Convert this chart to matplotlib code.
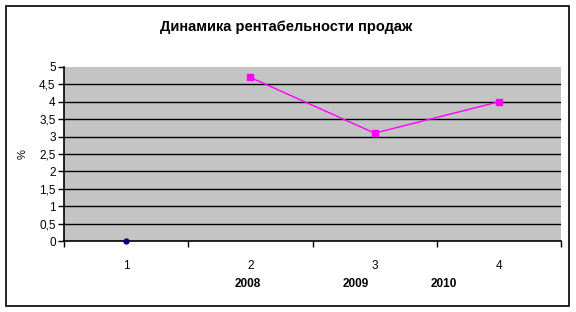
import matplotlib
matplotlib.use("Agg")
import matplotlib.pyplot as plt
import numpy as np
from matplotlib.patches import Rectangle

plt.rcParams["font.family"] = ["Liberation Sans", "DejaVu Sans"]

categories = [1, 2, 3, 4]
series_base = [0, None, None, None]
series_profit = [None, 4.7, 3.1, 4.0]
years = ["2008", "2009", "2010"]
year_pos = [1.98, 2.85, 3.56]
yticks = [0, 0.5, 1, 1.5, 2, 2.5, 3, 3.5, 4, 4.5, 5]

fig = plt.figure(figsize=(5.76, 3.12), dpi=100)
fig.patches.append(Rectangle((6 / 576, 6 / 312), 563 / 576, 300 / 312,
                             transform=fig.transFigure, fill=False,
                             edgecolor="black", lw=1.2))
ax = fig.add_axes([64 / 576, 71 / 312, 497 / 576, 174 / 312])
ax.set_facecolor("#c4c4c4")

x = np.array(categories, dtype=float)
yb = np.array([np.nan if v is None else v for v in series_base], dtype=float)
yp = np.array([np.nan if v is None else v for v in series_profit], dtype=float)
ax.plot(x, yb, color="#000080", marker="o", ms=3.5, lw=1, clip_on=False, zorder=4)
ax.plot(x, yp, color="#ff00ff", marker="s", ms=5, lw=1, zorder=4)

ax.set_xlim(0.5, 4.5)
ax.set_ylim(0, 5)
ax.set_yticks(yticks)
ax.set_yticklabels([f"{v:g}".replace(".", ",") for v in yticks], fontsize=8.5)
for v in yticks[1:-1]:
    ax.axhline(v, color="black", lw=1, zorder=2)

ax.set_xticks(np.arange(0.5, 4.6, 1))
ax.set_xticklabels([])
ax.set_xticks(x, minor=True)
ax.set_xticklabels([str(c) for c in categories], minor=True, fontsize=8.5)
ax.tick_params(axis="x", which="minor", length=0, pad=14)
ax.tick_params(axis="both", which="major", length=4, width=1, direction="out")
ax.tick_params(axis="y", pad=2)

for s in ["top", "right"]:
    ax.spines[s].set_visible(False)
ax.spines["left"].set_linewidth(1.2)
ax.spines["bottom"].set_linewidth(1.2)

for lbl, pos in zip(years, year_pos):
    ax.text(pos, -0.245, lbl, transform=ax.get_xaxis_transform(),
            ha="center", va="center", fontsize=8.5, fontweight="bold")

ax.set_ylabel("%", fontsize=8, labelpad=8)
fig.suptitle("Динамика рентабельности продаж", x=286 / 576, y=1 - 27 / 312,
             va="center", fontsize=10.5, fontweight="bold")

fig.savefig("out.png", dpi=100)
